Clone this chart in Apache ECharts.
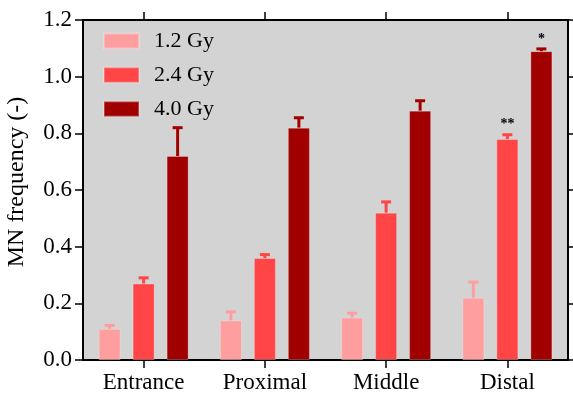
<!DOCTYPE html>
<html>
<head>
<meta charset="utf-8">
<script src="https://cdn.jsdelivr.net/npm/echarts@6/dist/echarts.min.js"></script>
<style>
  html, body { margin: 0; padding: 0; background: #fff; }
  #chart { width: 573px; height: 400px; }
</style>
</head>
<body>
<div id="chart"></div>
<script>
// data
var categories = ['Entrance', 'Proximal', 'Middle', 'Distal'];
var doses = ['1.2 Gy', '2.4 Gy', '4.0 Gy'];
var means = [
  [0.11, 0.14, 0.15, 0.22],
  [0.27, 0.36, 0.52, 0.78],
  [0.72, 0.82, 0.88, 1.09]
];
var errors = [
  [0.012, 0.03, 0.015, 0.055],
  [0.02, 0.012, 0.038, 0.015],
  [0.10, 0.035, 0.035, 0.008]
];
var marks = [
  ['', '', '', ''],
  ['', '', '', '**'],
  ['', '', '', '*']
];
var colors = ['#FF9E9E', '#FF4545', '#A00000'];

var font = 'Liberation Serif';
var barW = 22, gapPx = 12;

var series = [];
doses.forEach(function (d, s) {
  series.push({
    name: d,
    type: 'bar',
    data: means[s],
    barWidth: barW,
    barGap: (gapPx / barW * 100) + '%',
    itemStyle: { color: colors[s], borderColor: 'rgba(255,255,255,0.25)', borderWidth: 1 },
    z: 2
  });
});
doses.forEach(function (d, s) {
  series.push({
    name: d + ' err',
    type: 'custom',
    data: means[s].map(function (v, i) { return [i, v, errors[s][i]]; }),
    z: 3,
    renderItem: function (params, api) {
      var i = api.value(0), v = api.value(1), e = api.value(2);
      var mark = marks[s][i];
      var base = api.coord([i, v]);
      var top = api.coord([i, v + e]);
      var x = base[0] + (s - 1) * (barW + gapPx);
      var kids = [
        { type: 'line', shape: { x1: x, y1: base[1], x2: x, y2: top[1] },
          style: { stroke: colors[s], lineWidth: 3 } },
        { type: 'line', shape: { x1: x - 5, y1: top[1], x2: x + 5, y2: top[1] },
          style: { stroke: colors[s], lineWidth: 3 } }
      ];
      if (mark) {
        kids.push({ type: 'text', x: x, y: top[1] - 3,
          style: { text: mark, fill: '#000', font: 'bold 14px ' + font, align: 'center', verticalAlign: 'bottom' } });
      }
      return { type: 'group', children: kids };
    }
  });
});

var axisLine = { show: true, onZero: false, lineStyle: { color: '#000', width: 2 } };
var tick = { show: true, length: 8, lineStyle: { color: '#000', width: 1.5 } };

var chart = echarts.init(document.getElementById('chart'));
chart.setOption({
  animation: false,
  textStyle: { fontFamily: font },
  grid: { left: 83, right: 5, top: 20, bottom: 40, outerBoundsMode: 'none', containLabel: false,
    show: true, backgroundColor: '#D3D3D3', borderWidth: 0 },
  legend: {
    data: doses,
    orient: 'vertical',
    left: 98, top: 25,
    itemWidth: 35, itemHeight: 15, itemGap: 12,
    textStyle: { fontFamily: font, fontSize: 22, color: '#000', padding: [0, 0, 0, 10] },
    icon: 'rect'
  },
  xAxis: [{
    type: 'category', data: categories,
    axisLine: axisLine,
    axisTick: Object.assign({ alignWithLabel: true }, tick),
    axisLabel: { color: '#000', fontSize: 23, fontFamily: font, margin: 11 }
  }, {
    type: 'category', data: categories, position: 'top',
    axisLine: axisLine,
    axisTick: Object.assign({ alignWithLabel: true }, tick),
    axisLabel: { show: true, color: 'rgba(0,0,0,0)', fontSize: 10 }
  }],
  yAxis: [{
    type: 'value', min: 0, max: 1.2, interval: 0.2,
    name: 'MN frequency (-)', nameLocation: 'middle', nameGap: 54,
    nameTextStyle: { color: '#000', fontSize: 24, fontFamily: font, padding: [0, 0, 0, 16] },
    axisLine: axisLine,
    axisTick: tick,
    axisLabel: { color: '#000', fontSize: 23, fontFamily: font, margin: 11,
      formatter: function (v) { return v.toFixed(1); } },
    splitLine: { show: false }
  }, {
    type: 'value', min: 0, max: 1.2, interval: 0.2, position: 'right',
    axisLine: axisLine,
    axisTick: tick,
    axisLabel: { show: false },
    splitLine: { show: false }
  }],
  series: series
});
</script>
</body>
</html>
